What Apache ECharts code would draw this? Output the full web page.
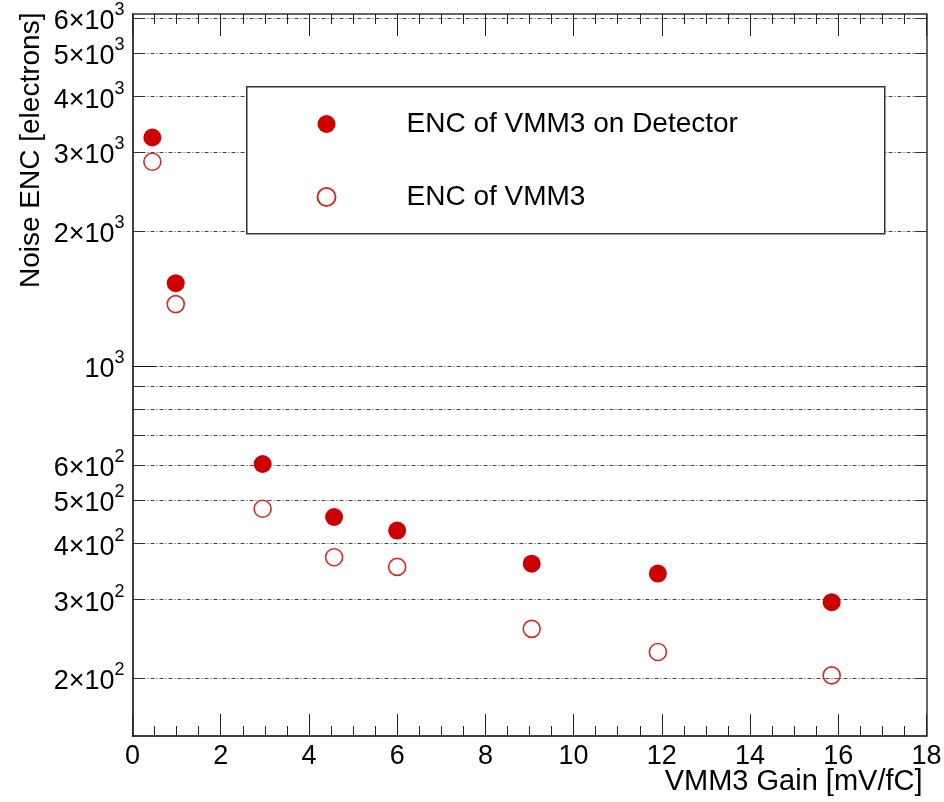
<!DOCTYPE html>
<html><head><meta charset="utf-8">
<script src="https://cdn.jsdelivr.net/npm/echarts@6/dist/echarts.min.js"></script>
<style>html,body{margin:0;padding:0;background:#fff}#c{width:944px;height:802px}</style>
</head><body><div id="c"></div>
<script>
// ---- data ----
const gain = [0.45, 0.98, 2.95, 4.57, 6.0, 9.05, 11.91, 15.85];
const encOnDetector = [3240, 1530, 603, 459, 428, 361, 343, 296];
const encVMM3 = [2860, 1374, 479, 373, 355, 258, 229, 203];
const seriesNames = ['ENC of VMM3 on Detector', 'ENC of VMM3'];
const xMin = 0, xMax = 18, xStep = 2;
const yMin = 148.6, yMax = 6120;
const yGridValues = [200, 300, 400, 500, 600, 700, 800, 900, 1000, 2000, 3000, 4000, 5000, 6000];
const yLabelValues = [200, 300, 400, 500, 600, 1000, 2000, 3000, 4000, 5000, 6000];
const yDecadeValues = [1000];
const xTitle = 'VMM3 Gain [mV/fC]';
const yTitle = 'Noise ENC [electrons]';

const FONT = '"Liberation Sans", Arial, Helvetica, sans-serif';
const chart = echarts.init(document.getElementById('c'), null, {renderer: 'canvas'});

function sciLabel(v) {
  const e = Math.floor(Math.log10(v) + 1e-9);
  const m = Math.round(v / Math.pow(10, e));
  return (m === 1 ? '{n|10}' : '{n|' + m + '×10}') + '{s|' + e + '}';
}
const rich = {
  n: {fontSize: 27, lineHeight: 28, verticalAlign: 'bottom', color: '#000', fontFamily: FONT},
  s: {fontSize: 18, height: 6, lineHeight: 6, verticalAlign: 'top', color: '#000', fontFamily: FONT}
};
const dotted = {color: '#444', width: 1, type: [4, 2, 1, 2]};

const option = {
  backgroundColor: '#fff',
  animation: false,
  grid: {left: 132.5, right: 17.5, top: 14, bottom: 66, containLabel: false, outerBoundsMode: 'none'},
  xAxis: [{
    type: 'value', min: xMin, max: xMax, interval: xStep, position: 'bottom',
    name: xTitle, nameLocation: 'end', nameGap: -4, nameMoveOverlap: false,
    nameTextStyle: {fontSize: 29, fontFamily: FONT, color: '#000', align: 'right', verticalAlign: 'top', padding: [31, 0, 0, 0]},
    axisLine: {show: true, onZero: false, lineStyle: {color: '#000', width: 1.5}},
    axisTick: {show: true, inside: true, length: 22, lineStyle: {color: '#222', width: 1}},
    minorTick: {show: true, splitNumber: 4, length: 10, lineStyle: {color: '#222', width: 1}},
    axisLabel: {fontSize: 27, fontFamily: FONT, color: '#000', margin: 7},
    splitLine: {show: false}
  }, {
    type: 'value', min: xMin, max: xMax, interval: xStep, position: 'top',
    axisLine: {show: true, onZero: false, lineStyle: {color: '#333', width: 1.5}},
    axisTick: {show: true, inside: true, length: 22, lineStyle: {color: '#222', width: 1}},
    minorTick: {show: true, splitNumber: 4, length: 10, lineStyle: {color: '#222', width: 1}},
    axisLabel: {show: false},
    splitLine: {show: false}
  }],
  yAxis: [{
    type: 'log', min: yMin, max: yMax, position: 'left',
    name: yTitle, nameLocation: 'middle', nameGap: 87, nameRotate: 90, nameMoveOverlap: false,
    nameTextStyle: {fontSize: 28, fontFamily: FONT, color: '#000', align: 'left', verticalAlign: 'bottom', padding: [0, 0, 0, 87]},
    axisLine: {show: true, onZero: false, lineStyle: {color: '#000', width: 1.5}},
    axisTick: {show: true, inside: true, length: 12, customValues: yGridValues, lineStyle: {color: '#333', width: 1}},
    axisLabel: {customValues: yLabelValues, margin: 8, formatter: sciLabel, rich: rich, padding: [6, 0, 0, 0]},
    splitLine: {show: true, lineStyle: dotted},
    minorTick: {show: false}, minorSplitLine: {show: false}
  }, {
    type: 'log', min: yMin, max: yMax, position: 'right',
    axisLine: {show: true, onZero: false, lineStyle: {color: '#333', width: 1.5}},
    axisTick: {show: true, inside: true, length: 12, customValues: yGridValues, lineStyle: {color: '#333', width: 1}},
    axisLabel: {show: false},
    splitLine: {show: false}
  }, {
    type: 'log', min: yMin, max: yMax, position: 'left',
    axisLine: {show: false},
    axisTick: {show: true, inside: true, length: 24, customValues: yDecadeValues, lineStyle: {color: '#111', width: 1}},
    axisLabel: {show: false},
    splitLine: {show: false}
  }],
  legend: {
    show: true, orient: 'vertical', left: 316.5, top: 109, itemWidth: 18, itemHeight: 18, itemGap: 43,
    selectedMode: false, padding: 0,
    textStyle: {fontSize: 28, fontFamily: FONT, color: '#000', lineHeight: 30, padding: [0, 0, 0, 66]},
    data: seriesNames
  },
  graphic: [{
    type: 'rect', left: 246, top: 86, z: 1, silent: true,
    shape: {width: 638, height: 147},
    style: {fill: '#fff', stroke: '#333', lineWidth: 1.5}
  }],
  series: [{
    name: seriesNames[0], type: 'scatter', symbol: 'circle', symbolSize: 18, z: 5,
    data: gain.map((g, i) => [g, encOnDetector[i]]),
    itemStyle: {color: '#cc0000', opacity: 1}
  }, {
    name: seriesNames[1], type: 'scatter', symbol: 'circle', symbolSize: 17, z: 5,
    data: gain.map((g, i) => [g, encVMM3[i]]),
    itemStyle: {color: 'rgba(255,255,255,0)', borderColor: '#d42a2a', borderWidth: 1.6, opacity: 1}
  }]
};
chart.setOption(option);
</script></body></html>
